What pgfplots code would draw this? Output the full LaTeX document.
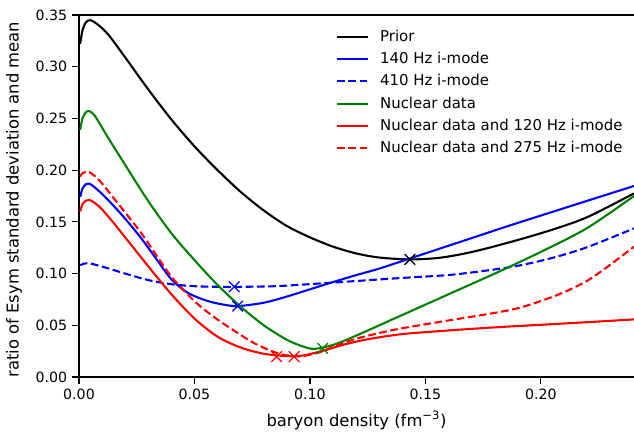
\documentclass[border=0pt]{standalone}
\usepackage{fontspec}
\setmainfont{DejaVu Sans}
\usepackage{pgfplots}
\pgfplotsset{compat=1.18}
\definecolor{mgreen}{rgb}{0,0.5,0}
\begin{document}
\begin{tikzpicture}
\begin{axis}[
  name=ax, at={(0,0)}, anchor=south west,
  scale only axis, width=399.6pt, height=260.64pt,
  xmin=0, xmax=0.2403, ymin=0, ymax=0.35,
  axis x line=box, axis y line=left,
  axis line style={line width=2pt, -},
  xtick pos=bottom, ytick pos=left,
  tick align=outside, major tick length=5pt,
  every tick/.style={black, line width=0.8pt},
  xtick={0,0.05,0.10,0.15,0.20},
  ytick={0,0.05,0.10,0.15,0.20,0.25,0.30,0.35},
  scaled ticks=false,
  /pgf/number format/.cd, fixed, fixed zerofill, precision=2, assume math mode=true,
  /pgfplots/.cd,
  ticklabel style={font=\fontsize{10.2}{12}\selectfont},
  xlabel={baryon density (fm\textsuperscript{−3})},
  ylabel={ratio of Esym standard deviation and mean},
  label style={font=\fontsize{11.8}{14}\selectfont},
  xlabel style={at={(axis description cs:0.5,-0.12)}, anchor=center},
  ylabel style={at={(axis description cs:-0.117,0.49)}, anchor=center, rotate=0},
  legend cell align=left,
  legend style={draw=none, fill=none, at={(0.455,0.975)}, anchor=north west,
    font=\fontsize{10.75}{13}\selectfont, row sep=2.4pt,
    nodes={inner xsep=4pt}},
  legend image code/.code={\draw[#1] (0pt,0pt) -- (22pt,0pt); \path (26.3pt,0pt);},
  every axis plot/.append style={line width=1.5pt},
  dashed/.style={dash pattern=on 5.5pt off 2.6pt},
]
\addplot[black, smooth] coordinates {
(0.0005,0.322) (0.0015,0.335) (0.003,0.343) (0.005,0.345) (0.008,0.341)
(0.0127,0.331) (0.02,0.309) (0.03,0.278) (0.04,0.249) (0.05,0.223)
(0.06,0.200) (0.07,0.179) (0.08,0.161) (0.09,0.146) (0.10,0.135)
(0.11,0.126) (0.12,0.1195) (0.13,0.1155) (0.1433,0.1137) (0.155,0.1150)
(0.165,0.1185) (0.175,0.1235) (0.19,0.1325) (0.205,0.1425) (0.22,0.1545)
(0.2403,0.1775)};
\addlegendentry{Prior}
\addplot[blue, smooth] coordinates {
(0.0005,0.174) (0.0015,0.182) (0.003,0.1865) (0.0045,0.187) (0.007,0.183)
(0.01,0.177) (0.015,0.1655) (0.02,0.153) (0.027,0.134) (0.034,0.1125) (0.04,0.0945)
(0.047,0.0815) (0.055,0.0740) (0.062,0.0702) (0.0687,0.0686) (0.08,0.0718)
(0.09,0.0778) (0.10,0.0848) (0.11,0.0918) (0.12,0.0985) (0.13,0.1048)
(0.1433,0.1146) (0.17,0.1343) (0.19,0.149) (0.2403,0.1847)};
\addlegendentry{140 Hz i-mode}
\addplot[blue, smooth, dashed] coordinates {
(0.0005,0.108) (0.002,0.1095) (0.0035,0.110) (0.006,0.1092) (0.0127,0.105)
(0.02,0.100) (0.03,0.0937) (0.04,0.0897) (0.05,0.0878) (0.06,0.0872)
(0.07,0.0872) (0.085,0.0878) (0.10,0.0898) (0.12,0.0928) (0.14,0.0958)
(0.16,0.0986) (0.175,0.1025) (0.19,0.1075) (0.205,0.1152) (0.22,0.1255)
(0.2403,0.1437)};
\addlegendentry{410 Hz i-mode}
\addplot[mgreen, smooth] coordinates {
(0.0005,0.239) (0.0015,0.250) (0.003,0.256) (0.0045,0.257) (0.007,0.252)
(0.0127,0.231) (0.02,0.205) (0.03,0.170) (0.04,0.139) (0.05,0.113)
(0.06,0.089) (0.07,0.068) (0.08,0.050) (0.09,0.036) (0.097,0.0295)
(0.102,0.0272) (0.11,0.031) (0.12,0.040) (0.14,0.060) (0.16,0.080)
(0.18,0.100) (0.20,0.121) (0.22,0.144) (0.2403,0.175)};
\addlegendentry{Nuclear data}
\addplot[red, smooth] coordinates {
(0.0005,0.160) (0.0015,0.167) (0.003,0.1705) (0.0045,0.1712) (0.007,0.168)
(0.01,0.162) (0.015,0.149) (0.02,0.135) (0.03,0.107) (0.04,0.080) (0.05,0.0565)
(0.06,0.039) (0.07,0.0285) (0.08,0.0225) (0.09,0.0202) (0.097,0.0208)
(0.105,0.025) (0.115,0.0315) (0.125,0.0365) (0.14,0.0415) (0.16,0.0450)
(0.18,0.0480) (0.20,0.0505) (0.22,0.053) (0.2403,0.0557)};
\addlegendentry{Nuclear data and 120 Hz i-mode}
\addplot[red, smooth, dashed] coordinates {
(0.0005,0.1937) (0.0015,0.197) (0.003,0.1985) (0.0045,0.198) (0.007,0.194)
(0.01,0.187) (0.015,0.173) (0.02,0.159) (0.027,0.139) (0.034,0.116) (0.04,0.097)
(0.047,0.080) (0.0524,0.0685) (0.06,0.0555) (0.0668,0.0454) (0.074,0.035)
(0.0812,0.027) (0.088,0.0218) (0.0957,0.0200) (0.1043,0.0240) (0.11,0.029)
(0.12,0.037) (0.135,0.045) (0.15,0.051) (0.165,0.0565) (0.18,0.062)
(0.19,0.0665) (0.20,0.0735) (0.21,0.082) (0.22,0.093) (0.23,0.1085)
(0.2403,0.126)};
\addlegendentry{Nuclear data and 275 Hz i-mode}
\addplot[black, only marks, mark=x, mark size=5.4pt, mark options={line width=0.9pt}, forget plot] coordinates {(0.1433,0.1137)};
\addplot[blue, only marks, mark=x, mark size=5.4pt, mark options={line width=0.9pt}, forget plot] coordinates {(0.0687,0.0686) (0.0672,0.0873)};
\addplot[mgreen, only marks, mark=x, mark size=5.4pt, mark options={line width=0.9pt}, forget plot] coordinates {(0.1055,0.0277)};
\addplot[red, only marks, mark=x, mark size=5.4pt, mark options={line width=0.9pt}, forget plot] coordinates {(0.0856,0.0197) (0.0931,0.0197)};
\end{axis}
\pgfresetboundingbox
\path[use as bounding box] (-56.88pt,-38.88pt) rectangle (399.6pt,271.44pt);
\end{tikzpicture}
\end{document}
